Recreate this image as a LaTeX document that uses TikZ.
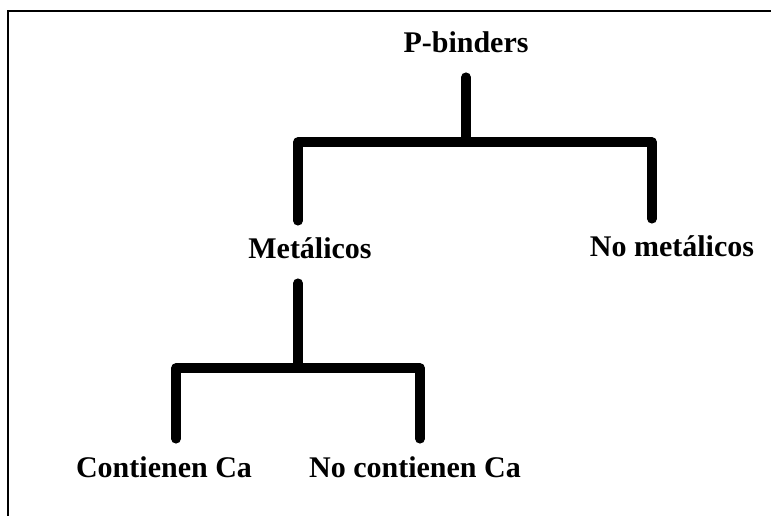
\documentclass[tikz,border=0pt]{standalone}
\usepackage{fontspec}
\setmainfont{Liberation Serif}
\usepackage{tikz}

\tikzset{
    label/.style={font=\fontsize{30bp}{36bp}\selectfont\bfseries, anchor=base, inner xsep=0pt, inner ysep=17bp, text height=21bp, text depth=7bp},
    branch/.style={line width=9.5bp, line cap=round, line join=round},
    frame/.style={line width=2.5bp}
}

\begin{document}
\begin{tikzpicture}[x=1bp, y=-1bp]
            \useasboundingbox (0,0) rectangle (771,516);
            \draw[frame] (8,516) |- (771,11);

            \node[label] (pbinders) at (466,53) {P-binders};
            \node[label] (metal) at (310,259) {Metálicos};
            \node[label] (nometal) at (672,257) {No metálicos};
            \node[label] (conca) at (164,477) {Contienen Ca};
            \node[label] (noca) at (415,477) {No contienen Ca};

            \coordinate (bar1) at (0,142);
            \coordinate (bar2) at (0,368);
            \coordinate (mtop) at ([xshift=-12bp]metal.north);
            \coordinate (mbot) at ([xshift=-12bp]metal.south);
            \coordinate (ntop) at ([xshift=-20bp]nometal.north);
            \coordinate (ctop) at ([xshift=12bp]conca.north);
            \coordinate (ktop) at ([xshift=5bp]noca.north);

            \draw[branch] (pbinders.south) -- (pbinders.south |- bar1);
            \draw[branch] (mtop) -- (mtop |- bar1) -- (ntop |- bar1) -- (ntop);
            \draw[branch] (mbot) -- (mbot |- bar2);
            \draw[branch] (ctop) -- (ctop |- bar2) -- (ktop |- bar2) -- (ktop);
        \end{tikzpicture}
\end{document}
